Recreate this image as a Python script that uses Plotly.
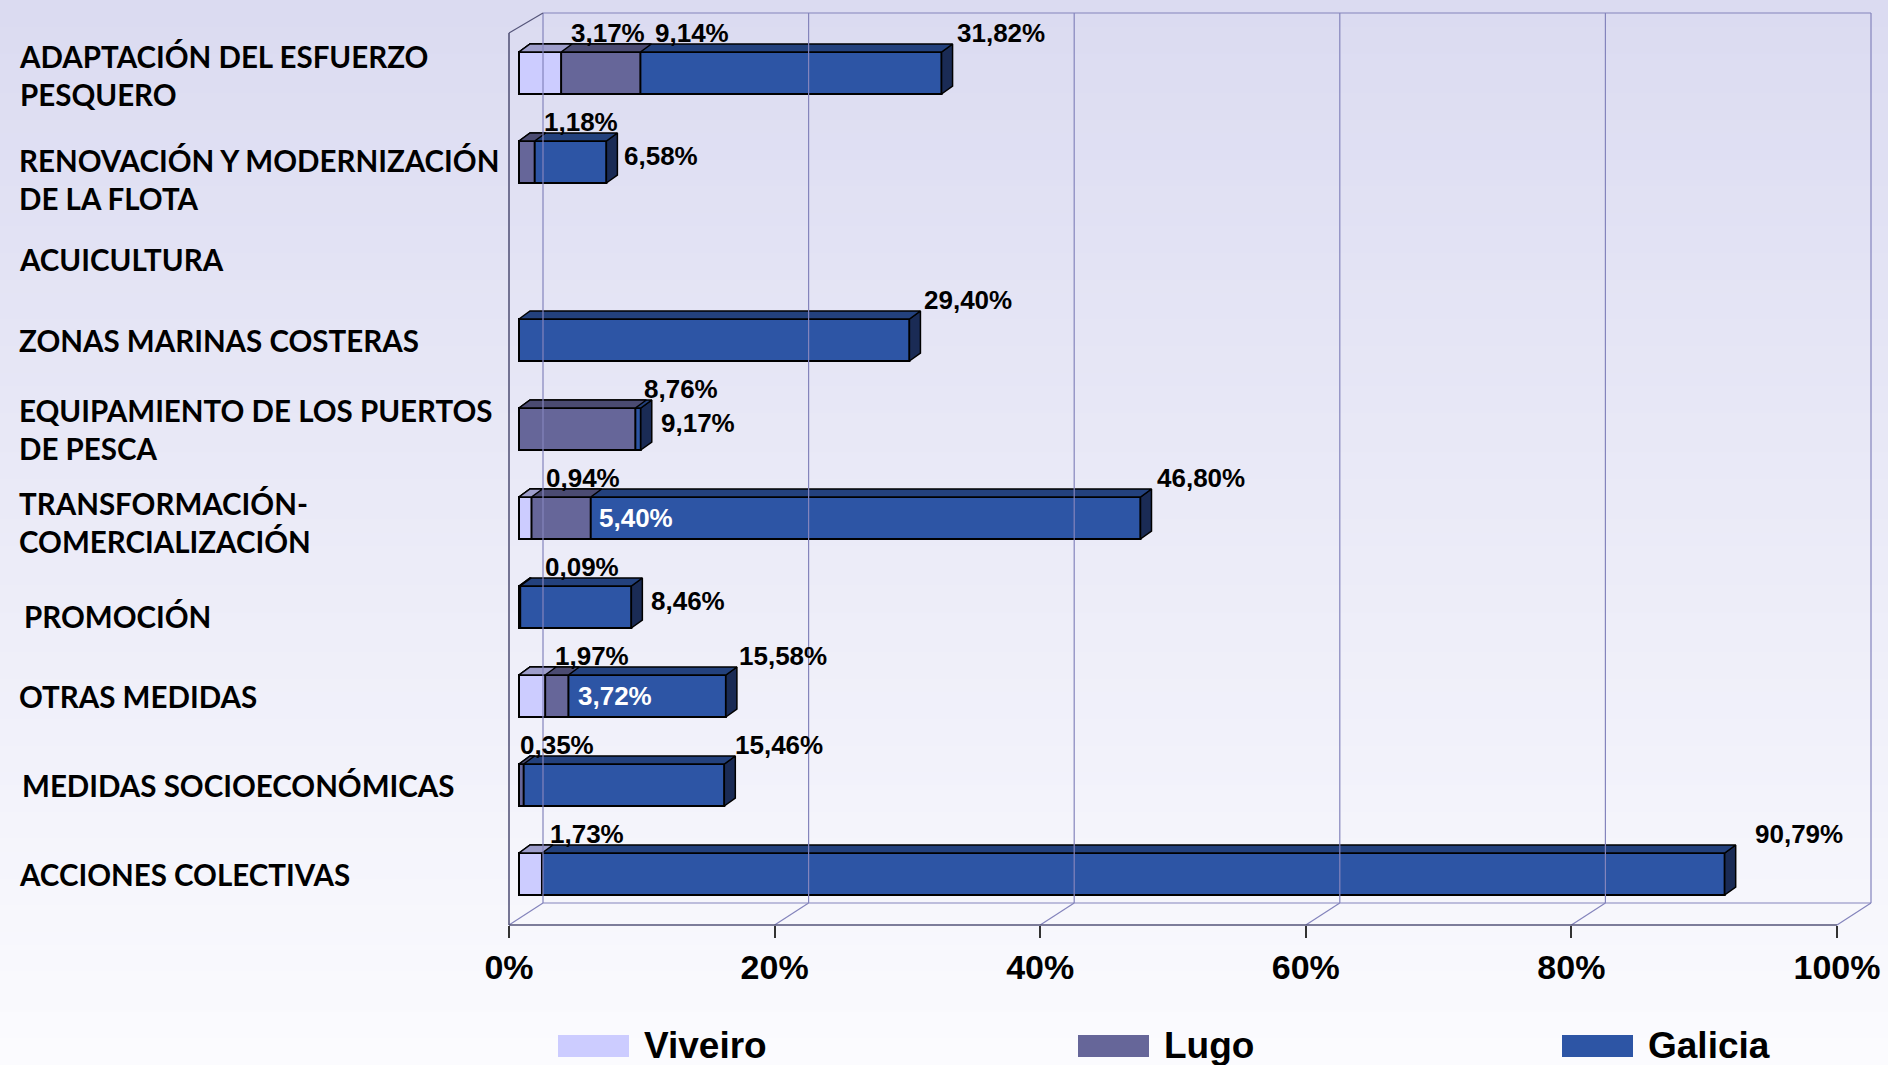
import plotly.graph_objects as go

# ---------------- data ----------------
categories = [
    "ADAPTACIÓN DEL ESFUERZO<br>PESQUERO",
    "RENOVACIÓN Y MODERNIZACIÓN<br>DE LA FLOTA",
    "ACUICULTURA",
    "ZONAS MARINAS COSTERAS",
    "EQUIPAMIENTO DE LOS PUERTOS<br>DE PESCA",
    "TRANSFORMACIÓN-<br>COMERCIALIZACIÓN",
    "PROMOCIÓN",
    "OTRAS MEDIDAS",
    "MEDIDAS SOCIOECONÓMICAS",
    "ACCIONES COLECTIVAS",
]
series_names = ["Viveiro", "Lugo", "Galicia"]
viveiro = [3.17, None, None, None, None, 0.94, None, 1.97, None, 1.73]
lugo = [9.14, 1.18, None, None, 8.76, 5.40, 0.09, 3.72, 0.35, None]
galicia = [31.82, 6.58, None, 29.40, 9.17, 46.80, 8.46, 15.58, 15.46, 90.79]
x_ticks = [0, 20, 40, 60, 80, 100]
x_tick_labels = ["0%", "20%", "40%", "60%", "80%", "100%"]

# ---------------- styling / layout constants ----------------
W, H = 1888, 1065
ML, MR, MT, MB = 480, 10, 0, 140
PW, PH = W - ML - MR, H - MT - MB
S = 13.28            # px per percent
BAR0 = 519           # px where bars start
FRONT0 = 509         # px of front floor 0%
CAT0, CATSTEP = 73, 89
BAR_W = 0.472
DDX = 11 / S         # bar depth in x units
DDY = 8 / CATSTEP    # bar depth in y units
FRAME_DX = 34 / S
LABEL_FONT = "Lato"
NUM_FONT = "Liberation Sans"

front_col = {"Viveiro": "#CCCCFF", "Lugo": "#666699", "Galicia": "#2D55A5"}
top_col = {"Viveiro": "#9E9ECB", "Lugo": "#4B4B72", "Galicia": "#23417D"}
side_col = {"Viveiro": "#8C8CB8", "Lugo": "#3C3C60", "Galicia": "#1A2B55"}
values = {"Viveiro": viveiro, "Lugo": lugo, "Galicia": galicia}


def py(p):
    return 1 - (p - MT) / PH


def px(p):
    return (p - ML) / PW


fig = go.Figure()
ypos = list(range(len(categories)))

# front faces (bars), drawn back-to-front: Galicia, Lugo, Viveiro
order = ["Galicia", "Lugo", "Viveiro"]
for name in order:
    fig.add_trace(go.Bar(
        y=ypos, x=values[name], orientation="h", width=BAR_W, base=0,
        marker=dict(color=front_col[name], line=dict(color="#000000", width=2)),
        name=name, showlegend=False, hoverinfo="x+name",
    ))

# right side face of the longest segment in each row
sx, sy = [], []
for i in ypos:
    vals = [v for v in (viveiro[i], lugo[i], galicia[i]) if v is not None]
    if not vals:
        continue
    m = max(vals)
    yt, yb = i - BAR_W / 2, i + BAR_W / 2
    sx += [m, m + DDX, m + DDX, m, m, None]
    sy += [yt, yt - DDY, yb - DDY, yb, yt, None]
fig.add_trace(go.Scatter(x=sx, y=sy, fill="toself", fillcolor=side_col["Galicia"],
                         mode="lines", line=dict(color="#000000", width=1.5),
                         showlegend=False, hoverinfo="skip"))

# top faces
for name in order:
    tx, ty = [], []
    for i, v in enumerate(values[name]):
        if v is None:
            continue
        yt = i - BAR_W / 2
        tx += [0, v, v + DDX, DDX, 0, None]
        ty += [yt, yt, yt - DDY, yt - DDY, yt, None]
    fig.add_trace(go.Scatter(x=tx, y=ty, fill="toself", fillcolor=top_col[name],
                             mode="lines", line=dict(color="#000000", width=1.5),
                             showlegend=False, hoverinfo="skip"))

# dummy trace on the frame axis
fig.add_trace(go.Scatter(x=[0], y=[0], xaxis="x2", yaxis="y", mode="markers",
                         marker=dict(opacity=0), showlegend=False, hoverinfo="skip"))

shapes = []
# background gradient
top_rgb, bot_rgb = (219, 219, 241), (251, 251, 254)
N = 80
for k in range(N):
    t = k / (N - 1)
    c = tuple(round(top_rgb[j] + (bot_rgb[j] - top_rgb[j]) * t) for j in range(3))
    y0 = k * H / N
    y1 = (k + 1) * H / N + 1
    shapes.append(dict(type="rect", xref="paper", yref="paper", layer="below",
                       x0=px(0), x1=px(W), y0=py(y0), y1=py(y1),
                       fillcolor="rgb(%d,%d,%d)" % c, line=dict(width=0)))

grid_col = "#8484BC"
edge_col = "#55557A"
BACK_TOP, BACK_BOT, FRONT_BOT, LEFT_TOP = 13, 903, 925, 33
# back wall lines
for v in x_ticks:
    shapes.append(dict(type="line", xref="x2", yref="paper", x0=v + FRAME_DX, x1=v + FRAME_DX,
                       y0=py(BACK_BOT), y1=py(BACK_TOP), line=dict(color=grid_col, width=1.2)))
    shapes.append(dict(type="line", xref="x2", yref="paper", x0=v + FRAME_DX, x1=v,
                       y0=py(BACK_BOT), y1=py(FRONT_BOT), line=dict(color=grid_col, width=1.2)))
shapes.append(dict(type="line", xref="x2", yref="paper", x0=FRAME_DX, x1=x_ticks[-1] + FRAME_DX,
                   y0=py(BACK_TOP), y1=py(BACK_TOP), line=dict(color=grid_col, width=1.2)))
shapes.append(dict(type="line", xref="x2", yref="paper", x0=FRAME_DX, x1=x_ticks[-1] + FRAME_DX,
                   y0=py(BACK_BOT), y1=py(BACK_BOT), line=dict(color=grid_col, width=1.2)))
# front floor edge and left wall edges
shapes.append(dict(type="line", xref="x2", yref="paper", x0=0, x1=x_ticks[-1],
                   y0=py(FRONT_BOT), y1=py(FRONT_BOT), line=dict(color=edge_col, width=1.6)))
shapes.append(dict(type="line", xref="x2", yref="paper", x0=0, x1=0,
                   y0=py(FRONT_BOT), y1=py(LEFT_TOP), line=dict(color=edge_col, width=1.6)))
shapes.append(dict(type="line", xref="x2", yref="paper", x0=0, x1=FRAME_DX,
                   y0=py(LEFT_TOP), y1=py(BACK_TOP), line=dict(color=edge_col, width=1.2)))

# custom legend
leg_sw_x = [558, 1078, 1562]
for name, x0 in zip(series_names, leg_sw_x):
    shapes.append(dict(type="rect", xref="paper", yref="paper", x0=px(x0), x1=px(x0 + 71),
                       y0=py(1035), y1=py(1057), fillcolor=front_col[name], line=dict(width=0)))

annotations = []
for name, x0 in zip(series_names, leg_sw_x):
    annotations.append(dict(xref="paper", yref="paper", x=px(x0 + 84), y=py(1045),
                            xanchor="left", yanchor="middle", text=name, showarrow=False,
                            font=dict(family=NUM_FONT, size=37, color="#000000", weight="bold")))

# category labels
cat_shift = [-2, -17, -8, 0, 0, -4, -9, 0, 0, 0]
cat_xpx = [17, 17, 17, 17, 17, 17, 22, 17, 20, 17]
for i, (c, dy, xp) in enumerate(zip(categories, cat_shift, cat_xpx)):
    annotations.append(dict(xref="paper", yref="y", x=px(xp), y=i, xanchor="left",
                            yanchor="middle", align="left", text=c, showarrow=False, yshift=dy,
                            font=dict(family=LABEL_FONT, size=29.5, color="#000000", weight="bold")))

# value labels: placement per (series,row)
placement = {
    ("Viveiro", 0): ("top", 8), ("Viveiro", 5): ("top", 13), ("Viveiro", 7): ("top", 8),
    ("Viveiro", 9): ("top", 6),
    ("Lugo", 0): ("top", 13), ("Lugo", 1): ("top", 7), ("Lugo", 4): ("top", 7),
    ("Lugo", 5): ("inside", 6), ("Lugo", 6): ("top", 23), ("Lugo", 7): ("inside", 8),
    ("Lugo", 8): ("top", -6),
    ("Galicia", 0): ("top", 13), ("Galicia", 1): ("right", 16), ("Galicia", 3): ("top", 13),
    ("Galicia", 4): ("right", 18), ("Galicia", 5): ("top", 14), ("Galicia", 6): ("right", 18),
    ("Galicia", 7): ("top", 11), ("Galicia", 8): ("top", 9), ("Galicia", 9): ("top", 28),
}
for name in series_names:
    for i, v in enumerate(values[name]):
        if v is None:
            continue
        kind, xs = placement.get((name, i), ("top", 10))
        txt = ("%.2f%%" % v).replace(".", ",")
        col = "#FFFFFF" if kind == "inside" else "#000000"
        ys = {"top": 40, "right": 6, "inside": 0}[kind]
        annotations.append(dict(xref="x", yref="y", x=v, y=i, xanchor="left", yanchor="middle",
                                text=txt, showarrow=False, xshift=xs, yshift=ys,
                                font=dict(family=NUM_FONT, size=26, color=col, weight="bold")))

fig.update_layout(
    width=W, height=H,
    margin=dict(l=ML, r=MR, t=MT, b=MB, pad=0),
    paper_bgcolor="#EDEDF7", plot_bgcolor="rgba(0,0,0,0)",
    barmode="overlay", showlegend=False,
    xaxis=dict(range=[(ML - BAR0) / S, (ML + PW - BAR0) / S], visible=False,
               fixedrange=True),
    xaxis2=dict(range=[(ML - FRONT0) / S, (ML + PW - FRONT0) / S], overlaying="x", anchor="y",
                side="bottom", tickmode="array", tickvals=x_ticks, ticktext=x_tick_labels,
                ticks="outside", ticklen=12,
                tickwidth=1.5, tickcolor="#333333", showgrid=False, zeroline=False, showline=False,
                tickfont=dict(family=NUM_FONT, size=34, color="#000000", weight="bold")),
    yaxis=dict(range=[(PH - CAT0) / CATSTEP, (0 - CAT0) / CATSTEP], visible=False),
    shapes=shapes, annotations=annotations,
)

fig.write_html("out.html", config={"displayModeBar": False},
               post_script="document.body.style.margin='0px';document.body.style.overflow='hidden';")
